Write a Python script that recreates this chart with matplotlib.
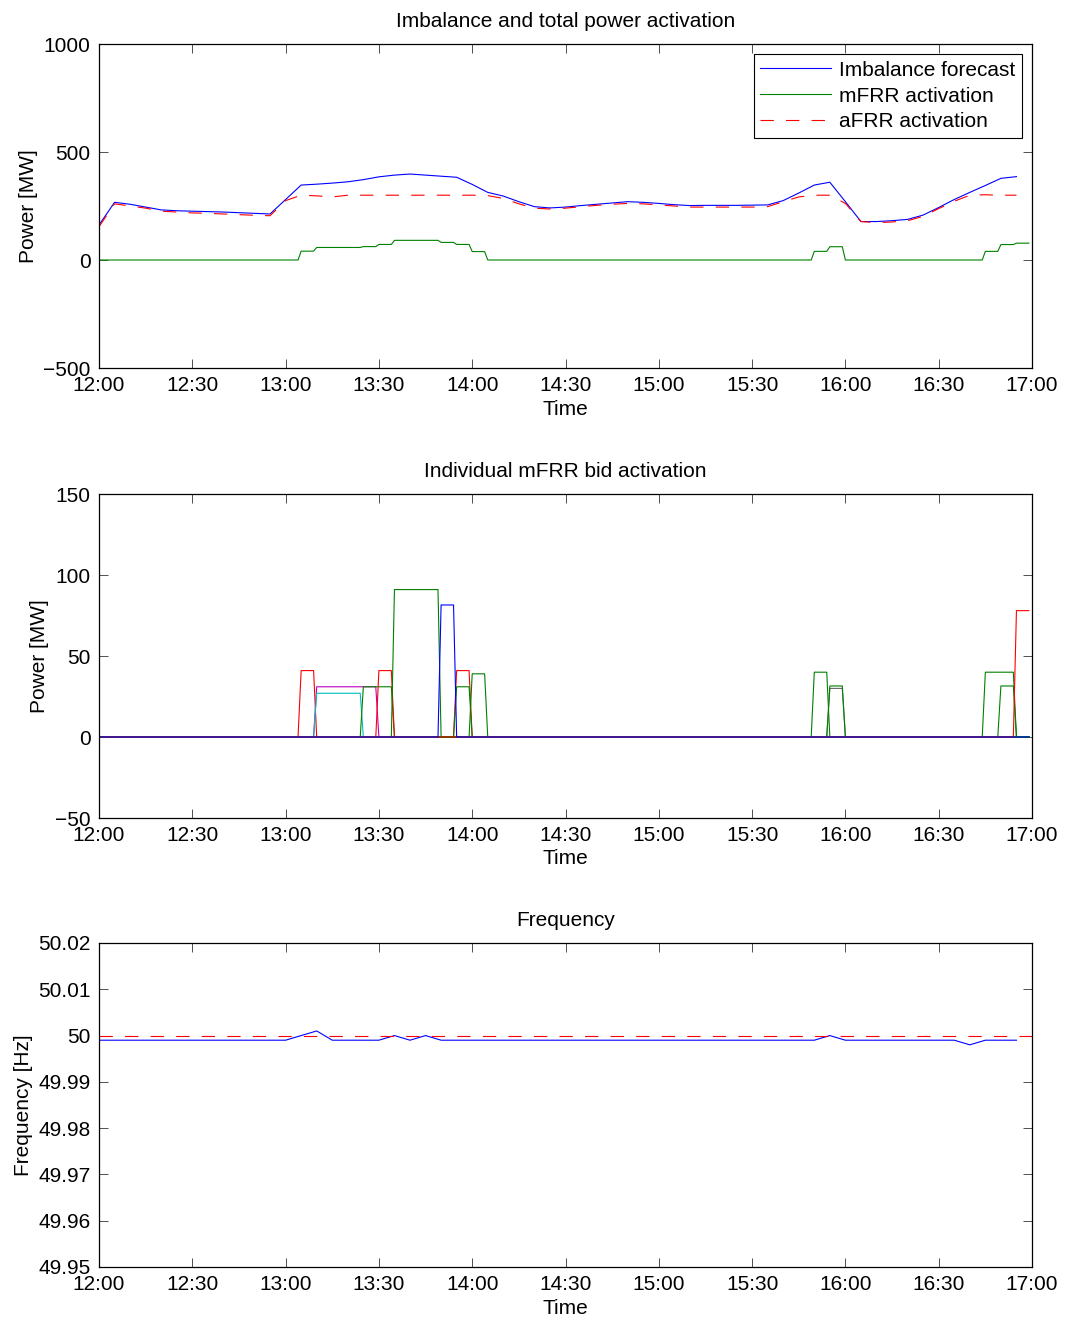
import numpy as np
import matplotlib.pyplot as plt

plt.rcParams['font.family'] = ['Liberation Sans', 'DejaVu Sans']
plt.rcParams['font.size'] = 15

# ---- data ----
# 5 minute samples, minutes after 12:00
t5 = np.arange(0, 300, 5)

imbalance = [162, 267, 258, 245, 232, 228, 226, 224, 222, 219, 216, 213,
             280, 347, 351, 356, 362, 372, 385, 393, 398, 393, 388, 383,
             350, 313, 296, 270, 247, 241, 245, 252, 258, 264, 270, 267,
             262, 256, 252, 253, 253, 253, 254, 255, 275, 310, 347, 360,
             270, 178, 178, 182, 188, 208, 243, 280, 313, 345, 378, 386]

afrr = [154, 260, 250, 240, 226, 222, 218, 216, 213, 210, 207, 205,
        275, 300, 297, 292, 300, 300, 300, 300, 300, 300, 300, 300,
        300, 298, 285, 260, 240, 236, 240, 247, 253, 258, 262, 260,
        255, 250, 245, 245, 245, 245, 245, 247, 270, 292, 300, 300,
        262, 178, 173, 176, 182, 202, 238, 272, 300, 302, 300, 300]

freq = [49.999, 49.999, 49.999, 49.999, 49.999, 49.999, 49.999, 49.999,
        49.999, 49.999, 49.999, 49.999, 49.999, 50.000, 50.001, 49.999,
        49.999, 49.999, 49.999, 50.000, 49.999, 50.000, 49.999, 49.999,
        49.999, 49.999, 49.999, 49.999, 49.999, 49.999, 49.999, 49.999,
        49.999, 49.999, 49.999, 49.999, 49.999, 49.999, 49.999, 49.999,
        49.999, 49.999, 49.999, 49.999, 49.999, 49.999, 49.999, 50.000,
        49.999, 49.999, 49.999, 49.999, 49.999, 49.999, 49.999, 49.999,
        49.998, 49.999, 49.999, 49.999]

# individual mFRR bids: first active minute, first inactive minute, MW
bid_start = [65, 70, 70, 85, 90, 95, 115, 115, 120, 230, 235, 235, 285, 290, 295, 110]
bid_end = [70, 90, 85, 95, 95, 110, 120, 120, 125, 235, 240, 240, 295, 295, 300, 115]
bid_mw = [41, 31, 27, 31, 41, 91, 41, 31, 39, 40, 30, 31.5, 40, 31.5, 78, 81.5]
bid_color = ['r', 'm', 'c', 'g', 'r', 'g', 'r', 'g', 'g', 'g', '#666666', 'g',
             'g', 'g', 'r', 'b']

xtick_min = [0, 30, 60, 90, 120, 150, 180, 210, 240, 270, 300]
xtick_lbl = ['12:00', '12:30', '13:00', '13:30', '14:00', '14:30', '15:00',
             '15:30', '16:00', '16:30', '17:00']

# ---- step series per bid (1 minute resolution) ----
t1 = np.arange(0, 300)
bids = [np.where((t1 >= s) & (t1 < e), mw, 0.0)
        for s, e, mw in zip(bid_start, bid_end, bid_mw)]
mfrr = np.sum(bids, axis=0)

MG = (0, 0.5, 0)
colmap = {'g': MG, 'r': (1, 0, 0), 'b': (0, 0, 1), 'c': (0, 0.75, 0.75),
          'm': (0.75, 0, 0.75)}

fig = plt.figure(figsize=(10.65, 13.22), dpi=100)
L, W, H = 99 / 1065, 933 / 1065, 324 / 1322
ax1 = fig.add_axes([L, 1 - 368 / 1322, W, H])
ax2 = fig.add_axes([L, 1 - 818 / 1322, W, H])
ax3 = fig.add_axes([L, 1 - 1267 / 1322, W, H])

lw = 0.8
dash = (0, (12, 11))

ax1.plot(t5, imbalance, color='b', lw=lw, label='Imbalance forecast')
ax1.plot(t1, mfrr, color=MG, lw=lw, label='mFRR activation')
ax1.plot(t5, afrr, color='r', lw=lw, ls=dash, label='aFRR activation')
ax1.set_ylim(-500, 1000)
ax1.set_yticks([-500, 0, 500, 1000])
ax1.set_title('Imbalance and total power activation', fontsize=15, pad=12)
ax1.set_ylabel('Power [MW]')
leg = ax1.legend(loc='upper right', fancybox=False, edgecolor='k',
                 framealpha=1, borderaxespad=0.5, handlelength=3.4,
                 handletextpad=0.4, labelspacing=0.33, borderpad=0.3)
leg.get_frame().set_linewidth(0.8)

for y, c in zip(bids, bid_color):
    ax2.plot(t1, y, color=colmap.get(c, c), lw=lw)
ax2.set_ylim(-50, 150)
ax2.set_yticks([-50, 0, 50, 100, 150])
ax2.set_title('Individual mFRR bid activation', fontsize=15, pad=12)
ax2.set_ylabel('Power [MW]')

ax3.plot(t5, freq, color='b', lw=lw)
ax3.axhline(50, color='r', lw=lw, ls=dash)
ax3.set_ylim(49.95, 50.02)
fticks = [49.95, 49.96, 49.97, 49.98, 49.99, 50.0, 50.01, 50.02]
ax3.set_yticks(fticks)
ax3.set_yticklabels(['49.95', '49.96', '49.97', '49.98', '49.99', '50',
                     '50.01', '50.02'])
ax3.set_title('Frequency', fontsize=15, pad=12)
ax3.set_ylabel('Frequency [Hz]')

for ax in (ax1, ax2, ax3):
    ax.set_xlim(0, 300)
    ax.set_xticks(xtick_min)
    ax.set_xticklabels(xtick_lbl)
    ax.set_xlabel('Time', labelpad=3)
    ax.tick_params(direction='in', length=6.5, width=0.6, top=True,
                   right=True, pad=6, color='#333333')
    for sp in ax.spines.values():
        sp.set_linewidth(0.9)

fig.savefig('out.png', dpi=100)
